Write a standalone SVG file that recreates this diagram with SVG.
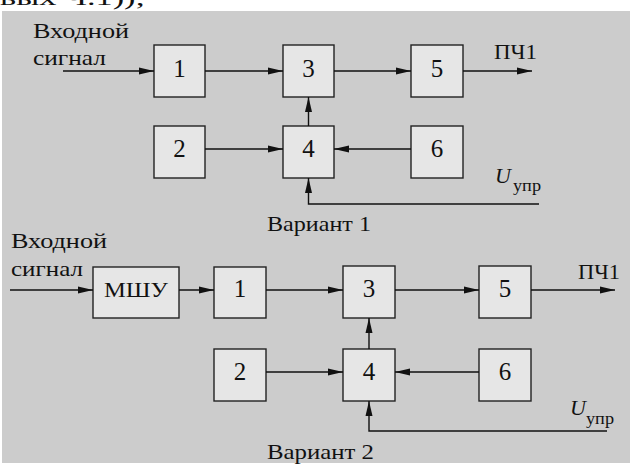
<svg xmlns="http://www.w3.org/2000/svg" width="630" height="466" viewBox="0 0 630 466">
<style>
.bg{fill:#cccccc}
.box{fill:#e6e6e6;stroke:#222;stroke-width:1.4}
.ln{fill:none;stroke:#111;stroke-width:1.4}
.t{font-family:"Liberation Serif","Times New Roman",serif;font-size:21px;fill:#111}
.d{font-family:"Liberation Serif","Times New Roman",serif;font-size:25px;fill:#111;text-anchor:middle}
.u{font-family:"Liberation Serif","Times New Roman",serif;font-size:22px;font-style:italic;fill:#111}
.s{font-family:"Liberation Serif","Times New Roman",serif;font-size:16px;fill:#111}
</style>
<defs>
<marker id="ah" viewBox="0 0 15 8" refX="15" refY="4" markerWidth="15" markerHeight="8" orient="auto" markerUnits="userSpaceOnUse">
<path d="M0,0.5 L15,4 L0,7.5 z" fill="#111"/>
</marker>
</defs>
<text class="t" x="0" y="5" textLength="145" lengthAdjust="spacingAndGlyphs">вых Ч.1));</text>
<rect class="bg" x="2" y="11" width="628" height="452"/>

<g id="v1-labels">
<text class="t" x="33" y="38" textLength="96" lengthAdjust="spacingAndGlyphs">Входной</text>
<text class="t" x="33" y="65" textLength="73" lengthAdjust="spacingAndGlyphs">сигнал</text>
<text class="t" x="494" y="59" textLength="43" lengthAdjust="spacingAndGlyphs">ПЧ1</text>
<text class="u" x="495" y="183">U</text>
<text class="s" x="513" y="191" textLength="28" lengthAdjust="spacingAndGlyphs">упр</text>
<text class="t" x="267" y="231" textLength="104" lengthAdjust="spacingAndGlyphs">Вариант 1</text>
</g>
<g id="v1-n1"><rect class="box" x="154" y="45" width="51" height="52"/><text class="d" x="179.5" y="77">1</text></g>
<g id="v1-n3"><rect class="box" x="283" y="45" width="51" height="52"/><text class="d" x="308.5" y="77">3</text></g>
<g id="v1-n5"><rect class="box" x="411" y="45" width="52" height="52"/><text class="d" x="437" y="77">5</text></g>
<g id="v1-n2"><rect class="box" x="154" y="126" width="51" height="52"/><text class="d" x="179.5" y="157">2</text></g>
<g id="v1-n4"><rect class="box" x="283" y="126" width="51" height="52"/><text class="d" x="308.5" y="157">4</text></g>
<g id="v1-n6"><rect class="box" x="411" y="126" width="52" height="52"/><text class="d" x="437" y="157">6</text></g>

<g id="v2-labels">
<text class="t" x="11" y="248" textLength="96" lengthAdjust="spacingAndGlyphs">Входной</text>
<text class="t" x="11" y="276" textLength="72" lengthAdjust="spacingAndGlyphs">сигнал</text>
<text class="t" x="578" y="279" textLength="42" lengthAdjust="spacingAndGlyphs">ПЧ1</text>
<text class="u" x="570" y="415">U</text>
<text class="s" x="586" y="424" textLength="28" lengthAdjust="spacingAndGlyphs">упр</text>
<text class="t" x="267" y="459" textLength="107" lengthAdjust="spacingAndGlyphs">Вариант 2</text>
</g>
<g id="v2-mshu"><rect class="box" x="93" y="267" width="86" height="51"/><text class="t" x="136" y="297" text-anchor="middle" font-size="22" textLength="64" lengthAdjust="spacingAndGlyphs">МШУ</text></g>
<g id="v2-n1"><rect class="box" x="214" y="267" width="52" height="51"/><text class="d" x="240" y="297">1</text></g>
<g id="v2-n3"><rect class="box" x="343" y="266" width="52" height="52"/><text class="d" x="369" y="297">3</text></g>
<g id="v2-n5"><rect class="box" x="479" y="266" width="52" height="52"/><text class="d" x="505" y="297">5</text></g>
<g id="v2-n2"><rect class="box" x="214" y="349" width="52" height="52"/><text class="d" x="240" y="380">2</text></g>
<g id="v2-n4"><rect class="box" x="343" y="349" width="52" height="52"/><text class="d" x="369" y="380">4</text></g>
<g id="v2-n6"><rect class="box" x="479" y="349" width="52" height="52"/><text class="d" x="505" y="380">6</text></g>

<g id="connectors">
<path class="ln" d="M63,71 H154" marker-end="url(#ah)"/>
<path class="ln" d="M205,71 H283" marker-end="url(#ah)"/>
<path class="ln" d="M334,71 H411" marker-end="url(#ah)"/>
<path class="ln" d="M463,71 H532" marker-end="url(#ah)"/>
<path class="ln" d="M205,149 H283" marker-end="url(#ah)"/>
<path class="ln" d="M411,149 H334" marker-end="url(#ah)"/>
<path class="ln" d="M308.5,126 V97" marker-end="url(#ah)"/>
<path class="ln" d="M539,204 H308.5 V178" marker-end="url(#ah)"/>

<path class="ln" d="M10,290 H93" marker-end="url(#ah)"/>
<path class="ln" d="M179,290 H214" marker-end="url(#ah)"/>
<path class="ln" d="M266,290 H343" marker-end="url(#ah)"/>
<path class="ln" d="M395,290 H479" marker-end="url(#ah)"/>
<path class="ln" d="M531,290 H615" marker-end="url(#ah)"/>
<path class="ln" d="M266,372 H343" marker-end="url(#ah)"/>
<path class="ln" d="M479,372 H395" marker-end="url(#ah)"/>
<path class="ln" d="M369,349 V318" marker-end="url(#ah)"/>
<path class="ln" d="M607,431 H369 V401" marker-end="url(#ah)"/>
</g>
</svg>
